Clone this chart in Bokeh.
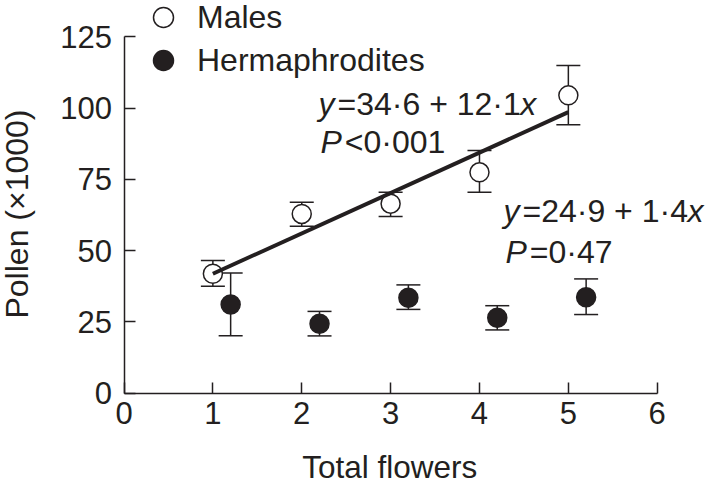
import math
from bokeh.plotting import figure
from bokeh.models import (ColumnDataSource, Whisker, TeeHead, FixedTicker, Legend,
                          LegendItem, Label, Range1d)
from bokeh.embed import file_html
from bokeh.resources import INLINE

# ---- data ----
male_x = [1, 2, 3, 4, 5]
male_mean = [41.9, 62.9, 66.5, 77.5, 104.5]
male_upper = [46.6, 67.0, 70.5, 85.2, 115.0]
male_lower = [37.5, 58.6, 62.0, 70.5, 94.2]

herm_x = [1.2, 2.2, 3.2, 4.2, 5.2]
herm_mean = [31.1, 24.4, 33.5, 26.5, 33.7]
herm_upper = [42.2, 28.7, 38.0, 30.7, 40.1]
herm_lower = [20.2, 20.1, 29.4, 22.2, 27.6]

fit_x = [1, 5]
fit_y = [41.9, 98.6]

x_ticks = [0, 1, 2, 3, 4, 5, 6]
y_ticks = [0, 25, 50, 75, 100, 125]

BLACK = "#231f20"
FONT = "Liberation Sans"

p = figure(width=708, height=487, output_backend="svg", toolbar_location=None,
           x_range=Range1d(-1.3897, 6.577), y_range=Range1d(-33.09, 137.79),
           min_border=0, min_border_left=0, min_border_right=0,
           min_border_top=0, min_border_bottom=0)
p.xgrid.visible = False
p.ygrid.visible = False
p.outline_line_color = None

for ax, ticks, bnd in ((p.xaxis, x_ticks, (0, 6)), (p.yaxis, y_ticks, (0, 125))):
    ax.fixed_location = 0
    ax.ticker = FixedTicker(ticks=ticks)
    ax.bounds = bnd
    ax.major_tick_in = 11
    ax.major_tick_out = 0
    ax.minor_tick_in = 0
    ax.minor_tick_out = 0
    ax.axis_line_width = 1.5
    ax.axis_line_color = BLACK
    ax.major_tick_line_width = 1.5
    ax.major_tick_line_color = BLACK
    ax.major_label_text_font = FONT
    ax.major_label_text_font_size = "31px"
    ax.major_label_text_color = BLACK

p.xaxis.major_label_standoff = 9
p.yaxis.major_label_standoff = 12

# axis titles (anchored at the middle of their capitals)
p.add_layout(Label(x=2.005, y=-25.9, text="Total flowers", text_font=FONT,
                   text_font_size="31.5px", text_baseline="middle",
                   text_align="left", text_color=BLACK))
p.add_layout(Label(x=-1.204, y=26.2, text="Pollen (×1000)", text_font=FONT,
                   text_font_size="32px", text_baseline="middle",
                   text_align="left", angle=math.pi / 2, text_color=BLACK))

# error bars (under the markers)
for xs, up, lo in ((male_x, male_upper, male_lower), (herm_x, herm_upper, herm_lower)):
    src = ColumnDataSource(dict(x=xs, upper=up, lower=lo))
    w = Whisker(source=src, base="x", upper="upper", lower="lower",
                line_width=1.5, line_color=BLACK, level="underlay",
                upper_head=TeeHead(size=24, line_width=1.5, line_color=BLACK),
                lower_head=TeeHead(size=24, line_width=1.5, line_color=BLACK))
    p.add_layout(w)

r_m = p.scatter(male_x, male_mean, marker="circle", size=19, fill_color="white",
                line_color=BLACK, line_width=1.5)
r_h = p.scatter(herm_x, herm_mean, marker="circle", size=19, fill_color=BLACK,
                line_color=BLACK, line_width=1.5)
p.line(fit_x, fit_y, line_width=4, line_color=BLACK)

# legend: one entry per box so each row sits where the reference has it
for label, rend, loc in (("Males", r_m, (138, 445)), ("Hermaphrodites", r_h, (138, 402))):
    lg = Legend(items=[LegendItem(label=label, renderers=[rend])],
                location=loc, glyph_width=50, glyph_height=50, label_height=50,
                padding=0, margin=0, label_standoff=9,
                border_line_color=None, background_fill_alpha=0,
                label_text_font=FONT, label_text_font_size="32px",
                label_text_color=BLACK)
    p.add_layout(lg)

# equations with italic symbols
W = {"y": .5, "x": .5, "P": .667, "=": .584, "+": .584, "<": .584, "·": .278,
     " ": .278, "0": .556, "1": .556, "2": .556, "3": .556, "4": .556, "5": .556,
     "6": .556, "7": .556, "8": .556, "9": .556}


def rich(x, y, parts, size=32, gap=3):
    off = 0.0
    for txt, style in parts:
        p.add_layout(Label(x=x, y=y, x_offset=off, text=txt, text_font=FONT,
                           text_font_style=style, text_font_size=f"{size}px",
                           text_baseline="middle", text_color=BLACK))
        off += sum(W[c] for c in txt) * size + gap


rich(2.189, 101.3, [("y", "italic"), ("=34·6 + 12·1", "normal"), ("x", "italic")])
rich(2.21, 88.1, [("P", "italic"), ("<0·001", "normal")])
rich(4.27, 63.9, [("y", "italic"), ("=24·9 + 1·4", "normal"), ("x", "italic")])
rich(4.293, 49.5, [("P", "italic"), ("=0·47", "normal")])

open("out.html", "w").write(file_html(p, INLINE))
